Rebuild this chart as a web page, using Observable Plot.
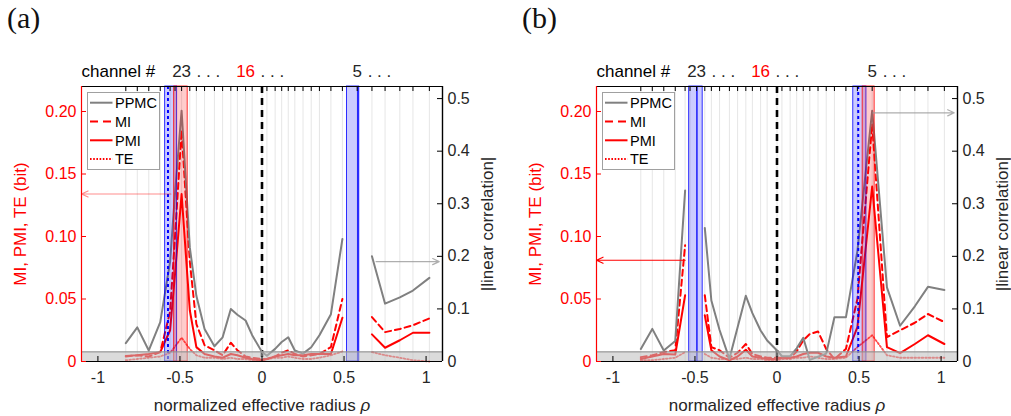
<!DOCTYPE html>
<html><head><meta charset="utf-8">
<script src="https://cdn.jsdelivr.net/npm/d3@7"></script>
<script src="https://cdn.jsdelivr.net/npm/@observablehq/plot@0.6"></script>
<style>
body{margin:0;background:#fff;font-family:"Liberation Sans",Arial,sans-serif;}
#wrap{position:relative;width:1011px;height:416px;overflow:hidden;background:#fff;}
.panel{position:absolute;top:0;}
.tag{position:absolute;top:2px;font-family:"Liberation Serif","DejaVu Serif",serif;font-size:30px;color:#111;line-height:32px;}
.legend{position:absolute;}
</style></head><body><div id="wrap"></div>
<script>
// ---------- data ----------
const channelRho = [-0.83,-0.76,-0.69,-0.62,-0.56,-0.53,-0.49,-0.44,-0.40,-0.35,-0.29,-0.24,-0.19,-0.15,-0.10,-0.06,0.00,0.03,0.08,0.12,0.16,0.20,0.25,0.30,0.35,0.42,0.49,0.58,0.67,0.75,0.84,0.92,1.02];
const channelLabels = [{i:6,num:"23",color:"#262626"},{i:14,num:"16",color:"#ff0000"},{i:27,num:"5",color:"#262626"}];

// panel (a)
const ppmcA = [0.035,0.065,0.021,0.075,0.19,0.32,0.477,0.217,0.125,0.062,0.029,0.046,0.10,0.089,0.078,0.05,0.018,0.011,0.024,0.037,0.046,0.021,0.015,0.027,0.05,0.09,0.233,null,0.20,0.11,0.122,0.135,0.159];
const miA   = [0.004,0.005,0.004,0.0075,0.04,0.10,0.185,0.08,0.03,0.013,0.009,0.005,0.015,0.009,0.004,0.003,0.002,0.002,0.004,0.007,0.009,0.006,0.004,0.005,0.006,0.0115,0.05,null,0.0355,0.0235,0.026,0.029,0.0345];
const pmiA  = [0.0045,0.005,0.006,0.0075,0.025,0.07,0.134,0.041,0.0115,0.006,0.004,0.003,0.006,0.005,0.003,0.002,0.001,0.002,0.004,0.005,0.006,0.005,0.005,0.006,0.006,0.006,0.035,null,0.0217,0.011,0.017,0.023,0.023];
const teA   = [0.001,0.002,0.003,0.004,0.007,0.012,0.019,0.01,0.005,0.003,0.003,0.002,0.003,0.002,0.002,0.001,0.001,0.002,0.003,0.003,0.004,0.003,0.002,0.002,0.003,0.005,0.008,null,0.0075,0.005,0.003,0.001,0.0];

// panel (b)
const ppmcB = [0.024,0.062,0.021,0.039,0.325,null,null,0.254,0.116,0.06,0.005,0.065,0.125,0.092,0.059,0.04,0.021,0.01,0.01,0.025,0.045,0.003,0.009,0.015,0.084,0.084,0.21,0.477,0.141,0.068,0.105,0.142,0.136];
const miB   = [0.0035,0.005,0.0075,0.009,0.093,null,null,0.053,0.0115,0.009,0.003,0.007,0.014,0.006,0.004,0.003,0.003,0.003,0.003,0.008,0.017,0.022,0.024,0.01,0.002,0.01,0.05,0.19,0.0195,0.025,0.031,0.038,0.0315];
const pmiB  = [0.002,0.004,0.006,0.0056,0.053,null,null,0.037,0.009,0.004,0.001,0.004,0.0094,0.004,0.003,0.002,0.002,0.003,0.003,0.004,0.006,0.007,0.007,0.004,0.003,0.004,0.0275,0.14,0.0115,0.0067,0.014,0.021,0.014];
const teB   = [0.001,0.001,0.002,0.003,0.0075,null,null,0.006,0.003,0.002,0.002,0.002,0.003,0.002,0.002,0.001,0.001,0.002,0.002,0.003,0.003,0.004,0.003,0.002,0.002,0.003,0.0115,0.021,0.005,0.003,0.003,0.003,0.003];

// shaded channel bands and marker lines (rho units)
const bandsA = [{x1:-0.59,x2:-0.517,c:"#0000ff"},{x1:-0.535,x2:-0.453,c:"#ff0000"},{x1:0.518,x2:0.593,c:"#0000ff"}];
const bandsB = [{x1:-0.535,x2:-0.453,c:"#0000ff"},{x1:0.465,x2:0.545,c:"#0000ff"},{x1:0.522,x2:0.595,c:"#ff0000"}];
const dottedA = [-0.573], solidA = [0.584];
const dottedB = [0.495],  solidB = [-0.488];

// annotation arrows: y on left axis (red) or right axis (gray)
const arrowsA = [{x1:-0.555,x2:-1.1,v:0.134,axis:"left",c:"#ff0000",o:0.45},{x1:0.695,x2:1.08,v:0.19,axis:"right",c:"#9a9a9a",o:0.8}];
const arrowsB = [{x1:-0.56,x2:-1.1,v:0.081,axis:"left",c:"#ff0000",o:1},{x1:0.585,x2:1.08,v:0.473,axis:"right",c:"#9a9a9a",o:0.8}];

const threshold = 0.0077;
const yMax = 0.22, rightMax = 0.523;
const xDomain = [-1.1, 1.1];
const leftTicks = [0,0.05,0.10,0.15,0.20], leftTickLabels = ["0","0.05","0.10","0.15","0.20"];
const rightTicks = [0,0.1,0.2,0.3,0.4,0.5], rightTickLabels = ["0","0.1","0.2","0.3","0.4","0.5"];
const xTicks = [-1,-0.5,0,0.5,1], xTickLabels = ["-1","-0.5","0","0.5","1"];
const legendItems = [{name:"PPMC",stroke:"#808080",dash:null},{name:"MI",stroke:"#ff0000",dash:"8,5"},{name:"PMI",stroke:"#ff0000",dash:null},{name:"TE",stroke:"#ff0000",dash:"1.6,1.6"}];

// ---------- drawing ----------
const k = yMax / rightMax;
const FH = 275, FW = 361;
const dark = "#262626";

function panel({ppmc, mi, pmi, te, bands, dotted, solid, arrows, width, marginRight}) {
  const rows = channelRho.map((x, i) => ({x, ppmc: ppmc[i] ?? NaN, mi: mi[i] ?? NaN, pmi: pmi[i] ?? NaN, te: te[i] ?? NaN}));
  const arr = arrows.map(a => ({...a, y: a.axis === "right" ? a.v * k : a.v}));
  const svg = Plot.plot({
    width, height: 416, marginTop: 86, marginBottom: 55, marginLeft: 81, marginRight,
    x: {domain: xDomain}, y: {domain: [0, yMax]},
    style: {fontFamily: "'Liberation Sans', Arial, sans-serif", fontSize: "16px", background: "transparent", overflow: "visible", color: dark},
    marks: [
      Plot.ruleX(channelRho, {stroke: "#e6e6e6", strokeWidth: 1}),
      Plot.ruleX([0], {stroke: "#000", strokeWidth: 2.6, strokeDasharray: "7,5"}),
      Plot.line(rows, {x: "x", y: "te", stroke: "#ff0000", strokeWidth: 1.8, strokeDasharray: "1.6,2", strokeOpacity: 0.7}),
      Plot.line(rows, {x: "x", y: "pmi", stroke: "#ff0000", strokeWidth: 2}),
      Plot.line(rows, {x: "x", y: "mi", stroke: "#ff0000", strokeWidth: 2, strokeDasharray: "6,4"}),
      Plot.line(rows, {x: "x", y: d => d.ppmc * k, stroke: "#808080", strokeWidth: 2}),
      Plot.rect(bands, {x1: "x1", x2: "x2", fill: "c", fillOpacity: 0.2, stroke: "c", strokeWidth: 0.8}),
      Plot.ruleX(dotted, {stroke: "#0000ff", strokeWidth: 2, strokeDasharray: "3,3"}),
      Plot.ruleX(solid, {stroke: "#0000ff", strokeWidth: 1.5, strokeOpacity: 0.85}),
      Plot.rect([threshold], {x1: xDomain[0], x2: xDomain[1], y1: 0, y2: d => d, fill: "#bebebe", fillOpacity: 0.55}),
      Plot.ruleY([threshold], {stroke: "#8a8a8a", strokeWidth: 1}),
      // frame
      Plot.ruleY([0, yMax], {stroke: "#000", strokeWidth: 1.2}),
      Plot.ruleX([xDomain[0]], {stroke: "#ff0000", strokeWidth: 1.2}),
      Plot.ruleX([xDomain[1]], {stroke: "#000", strokeWidth: 1.4}),
      // inward ticks
      Plot.tickX(channelRho, {stroke: "#000", insetBottom: FH - 5}),
      Plot.tickX(xTicks, {stroke: "#000", insetTop: FH - 5}),
      Plot.tickY(leftTicks, {stroke: "#ff0000", insetRight: FW - 5}),
      Plot.tickY(rightTicks.map(v => v * k), {stroke: "#000", insetLeft: FW - 5}),
      // axes labels
      Plot.axisY(leftTicks, {anchor: "left", tickSize: 0, tickPadding: 5, color: "#ff0000", fontSize: 16, label: null,
        tickFormat: d => leftTickLabels[leftTicks.indexOf(d)]}),
      Plot.axisY(rightTicks.map(v => v * k), {anchor: "right", tickSize: 0, tickPadding: 5, color: dark, fontSize: 16, label: null,
        tickFormat: d => rightTickLabels[rightTicks.findIndex(v => Math.abs(v * k - d) < 1e-9)]}),
      Plot.axisX(xTicks, {anchor: "bottom", tickSize: 0, tickPadding: 10, color: dark, fontSize: 16, label: null,
        tickFormat: d => xTickLabels[xTicks.indexOf(d)]}),
      Plot.text(["MI, PMI, TE (bit)"], {frameAnchor: "left", rotate: -90, dx: -61, fill: "#ff0000", fontSize: 17, textAnchor: "middle", lineAnchor: "middle"}),
      Plot.text(["|linear correlation|"], {frameAnchor: "right", rotate: -90, dx: 45, fill: dark, fontSize: 17, textAnchor: "middle", lineAnchor: "middle"}),
      Plot.text(["normalized effective radius ρ"], {frameAnchor: "bottom", dy: 44, fill: dark, fontSize: 17, textAnchor: "middle", lineAnchor: "middle"}),
      // channel labels
      Plot.text(["channel #"], {frameAnchor: "top-left", dy: -14.5, textAnchor: "start", fill: "#000", fontSize: 17, lineAnchor: "middle"}),
      Plot.text(channelLabels, {x: d => channelRho[d.i], text: "num", fill: "color", frameAnchor: "top", dy: -14.5, fontSize: 17, lineAnchor: "middle"}),
      Plot.text(channelLabels.filter(d => d.num.length === 2), {x: d => channelRho[d.i], text: () => ". . .", fill: dark, frameAnchor: "top", dy: -14.5, dx: 15, textAnchor: "start", fontSize: 17, lineAnchor: "middle"}),
      Plot.text(channelLabels.filter(d => d.num.length === 1), {x: d => channelRho[d.i], text: () => ". . .", fill: dark, frameAnchor: "top", dy: -14.5, dx: 10.5, textAnchor: "start", fontSize: 17, lineAnchor: "middle"}),
      // arrows
      Plot.arrow(arr, {x1: "x1", x2: "x2", y1: "y", y2: "y", stroke: "c", strokeOpacity: "o", strokeWidth: 1.2, headLength: 9, headAngle: 50})
    ]
  });
  d3.select(svg).selectAll("text").filter(function () { return this.textContent === "normalized effective radius ρ"; })
    .html('normalized effective radius <tspan font-style="italic">ρ</tspan>');
  return svg;
}

function legend(left, top) {
  const div = d3.select("#wrap").append("div").attr("class", "legend").style("left", left + "px").style("top", top + "px");
  const s = div.append("svg").attr("width", 73).attr("height", 78);
  s.append("rect").attr("x", 0.5).attr("y", 0.5).attr("width", 72).attr("height", 77).attr("fill", "#fff").attr("stroke", "#a0a0a0");
  const ys = [10.7, 29.5, 48.3, 67];
  legendItems.forEach((d, i) => {
    s.append("line").attr("x1", 3).attr("x2", 25.5).attr("y1", ys[i]).attr("y2", ys[i])
      .attr("stroke", d.stroke).attr("stroke-width", 2).attr("stroke-dasharray", d.dash);
    s.append("text").attr("x", 28).attr("y", ys[i]).attr("dy", "0.36em").attr("font-size", 14.5)
      .attr("font-family", "'Liberation Sans', Arial, sans-serif").attr("fill", "#000").text(d.name);
  });
}

const wrap = document.getElementById("wrap");
const pa = panel({ppmc: ppmcA, mi: miA, pmi: pmiA, te: teA, bands: bandsA, dotted: dottedA, solid: solidA, arrows: arrowsA, width: 515, marginRight: 73});
const pb = panel({ppmc: ppmcB, mi: miB, pmi: pmiB, te: teB, bands: bandsB, dotted: dottedB, solid: solidB, arrows: arrowsB, width: 496, marginRight: 54});
const da = document.createElement("div"); da.className = "panel"; da.style.left = "0px"; da.appendChild(pa); wrap.appendChild(da);
const db = document.createElement("div"); db.className = "panel"; db.style.left = "515px"; db.appendChild(pb); wrap.appendChild(db);
legend(87, 92);
legend(602, 92);
d3.select("#wrap").append("div").attr("class", "tag").style("left", "7px").text("(a)");
d3.select("#wrap").append("div").attr("class", "tag").style("left", "522px").text("(b)");
</script>
</body></html>
